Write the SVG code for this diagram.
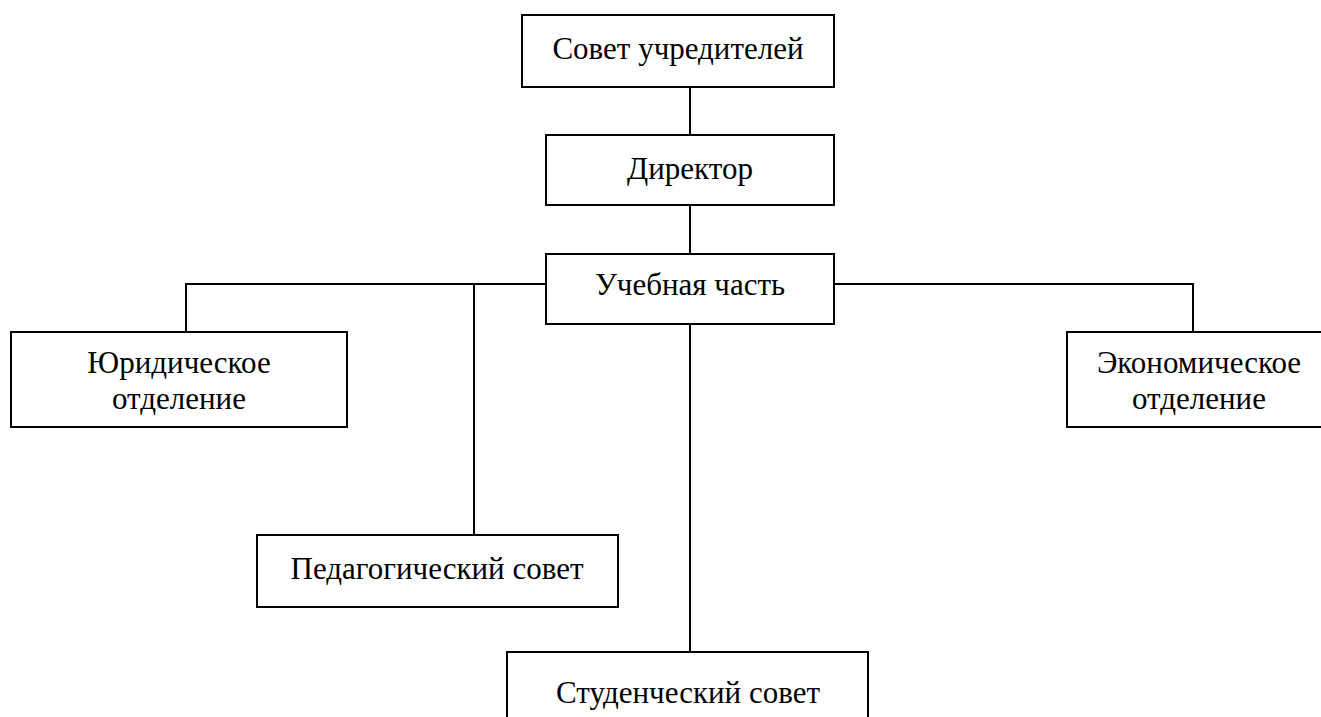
<svg xmlns="http://www.w3.org/2000/svg" width="1321" height="717" viewBox="0 0 1321 717">
<style>
.box{fill:#fff;stroke:#000;stroke-width:2}
.ln{fill:none;stroke:#000;stroke-width:2}
text{font-family:"Liberation Serif","Times New Roman",serif;font-size:31px;fill:#000;text-anchor:middle}
</style>
<rect width="1321" height="717" fill="#fff"/>
<g id="connectors">
<path class="ln" d="M690 87V135"/>
<path class="ln" d="M690 205V254"/>
<path class="ln" d="M546 284H186V332"/>
<path class="ln" d="M474 284V535"/>
<path class="ln" d="M834 284H1193V332"/>
<path class="ln" d="M690 324V652"/>
</g>
<g id="sovet"><rect class="box" x="522" y="15" width="312" height="72"/><text x="678" y="59">Совет учредителей</text></g>
<g id="director"><rect class="box" x="546" y="135" width="288" height="70"/><text x="690" y="179">Директор</text></g>
<g id="uchebnaya"><rect class="box" x="546" y="254" width="288" height="70"/><text x="690" y="295">Учебная часть</text></g>
<g id="jur"><rect class="box" x="11" y="332" width="336" height="95"/><text x="179" y="373">Юридическое</text><text x="179" y="409">отделение</text></g>
<g id="econ"><rect class="box" x="1067" y="332" width="264" height="95"/><text x="1199" y="373">Экономическое</text><text x="1199" y="409">отделение</text></g>
<g id="ped"><rect class="box" x="257" y="535" width="361" height="72"/><text x="437" y="579">Педагогический совет</text></g>
<g id="stud"><rect class="box" x="507" y="652" width="361" height="80"/><text x="688" y="703">Студенческий совет</text></g>
</svg>
